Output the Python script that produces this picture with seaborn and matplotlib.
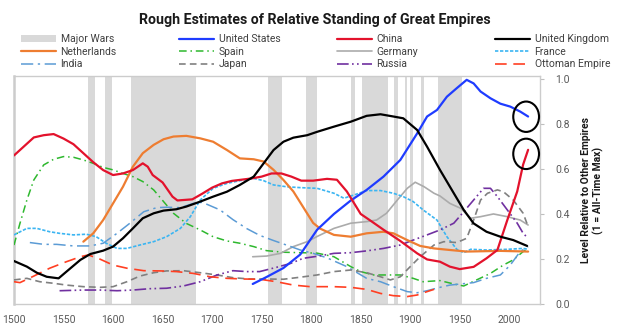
import matplotlib
matplotlib.use("Agg")
import matplotlib.pyplot as plt
import seaborn as sns
import pandas as pd
from matplotlib.lines import Line2D
from matplotlib.patches import Patch, Ellipse

sns.set_theme(style="white")
plt.rcParams["font.family"] = ["Roboto", "DejaVu Sans"]

# ---------------- data ----------------
wars = [(1575, 1582), (1592, 1599), (1618, 1684), (1756, 1771), (1795, 1806),
        (1840, 1844), (1851, 1878), (1884, 1888), (1895, 1897), (1900, 1903),
        (1911, 1914), (1928, 1952)]

us_years = [1741, 1755, 1772, 1789, 1806, 1823, 1840, 1856, 1873, 1890, 1907, 1917, 1927,
            1937, 1947, 1957, 1964, 1971, 1981, 1991, 2001, 2011, 2019]
us_vals = [0.089, 0.12, 0.16, 0.22, 0.33, 0.40, 0.46, 0.507, 0.566, 0.64, 0.758, 0.833, 0.862,
           0.921, 0.959, 0.996, 0.98, 0.944, 0.914, 0.89, 0.877, 0.855, 0.833]

china_years = [1500, 1510, 1520, 1530, 1540, 1550, 1560, 1570, 1580, 1590, 1600, 1610, 1620,
               1630, 1635, 1640, 1650, 1660, 1665, 1680, 1690, 1700, 1710, 1720, 1740, 1750,
               1760, 1770, 1780, 1790, 1802, 1816, 1826, 1836, 1843, 1850, 1860, 1873, 1890,
               1907, 1917, 1930, 1940, 1950, 1964, 1977, 1988, 1998, 2008, 2014, 2019]
china_vals = [0.66, 0.70, 0.74, 0.75, 0.755, 0.735, 0.71, 0.67, 0.63, 0.595, 0.573, 0.58, 0.595,
              0.625, 0.61, 0.573, 0.54, 0.477, 0.46, 0.465, 0.49, 0.517, 0.536, 0.547, 0.558, 0.566,
              0.58, 0.58, 0.566, 0.548, 0.548, 0.556, 0.552, 0.50, 0.45, 0.40, 0.37, 0.33, 0.28,
              0.225, 0.198, 0.188, 0.166, 0.155, 0.165, 0.203, 0.24, 0.373, 0.50, 0.62, 0.685]

uk_years = [1500, 1513, 1523, 1533, 1545, 1553, 1567, 1577, 1590, 1600, 1610, 1620, 1630, 1641,
            1651, 1664, 1674, 1688, 1701, 1715, 1728, 1742, 1752, 1762, 1772, 1782, 1796, 1806,
            1823, 1840, 1856, 1870, 1883, 1893, 1907, 1917, 1930, 1944, 1954, 1964, 1977, 1991,
            2004, 2018]
uk_vals = [0.191, 0.166, 0.139, 0.121, 0.114, 0.144, 0.196, 0.222, 0.237, 0.255, 0.292, 0.336,
           0.381, 0.403, 0.415, 0.421, 0.433, 0.455, 0.477, 0.499, 0.529, 0.566, 0.625, 0.684,
           0.721, 0.739, 0.75, 0.765, 0.788, 0.81, 0.836, 0.843, 0.833, 0.825, 0.773, 0.699,
           0.596, 0.492, 0.418, 0.358, 0.321, 0.299, 0.284, 0.258]

nl_years = [1570, 1580, 1590, 1600, 1610, 1620, 1630, 1641, 1651, 1661, 1674, 1688, 1701, 1715,
            1728, 1742, 1752, 1762, 1772, 1782, 1792, 1802, 1809, 1823, 1840, 1856, 1873, 1883,
            1897, 1910, 1924, 1940, 1957, 1991, 2019]
nl_vals = [0.277, 0.314, 0.373, 0.447, 0.521, 0.61, 0.67, 0.707, 0.732, 0.744, 0.747, 0.736,
           0.721, 0.684, 0.647, 0.643, 0.633, 0.596, 0.551, 0.50, 0.43, 0.36, 0.335, 0.307, 0.299,
           0.314, 0.321, 0.314, 0.284, 0.258, 0.247, 0.24, 0.233, 0.236, 0.233]

spain_years = [1500, 1506, 1513, 1520, 1530, 1540, 1550, 1560, 1570, 1580, 1590, 1600, 1610,
               1620, 1630, 1641, 1651, 1661, 1674, 1688, 1701, 1715, 1728, 1742, 1755, 1772,
               1789, 1806, 1823, 1840, 1850, 1863, 1876, 1890, 1903, 1913, 1930, 1944, 1954,
               1967, 1981, 1994, 2004, 2014, 2019]
spain_vals = [0.262, 0.358, 0.462, 0.551, 0.618, 0.643, 0.655, 0.652, 0.64, 0.625, 0.607, 0.596,
              0.58, 0.566, 0.544, 0.507, 0.455, 0.403, 0.358, 0.329, 0.299, 0.28, 0.27, 0.255,
              0.237, 0.23, 0.228, 0.226, 0.21, 0.166, 0.144, 0.129, 0.129, 0.129, 0.114, 0.099,
              0.104, 0.089, 0.08, 0.107, 0.136, 0.173, 0.196, 0.233, 0.247]

germany_years = [1741, 1755, 1769, 1782, 1796, 1806, 1823, 1840, 1856, 1866, 1876, 1887, 1897,
                 1905, 1914, 1924, 1930, 1940, 1951, 1961, 1971, 1984, 1998, 2011, 2019]
germany_vals = [0.21, 0.213, 0.225, 0.255, 0.277, 0.3, 0.336, 0.359, 0.366, 0.373, 0.403, 0.462,
                0.514, 0.541, 0.521, 0.492, 0.48, 0.447, 0.425, 0.381, 0.388, 0.40, 0.388, 0.373,
                0.351]

france_years = [1500, 1513, 1523, 1536, 1546, 1560, 1573, 1583, 1593, 1604, 1614, 1627, 1641,
                1654, 1668, 1678, 1688, 1701, 1715, 1728, 1742, 1752, 1762, 1775, 1789, 1806,
                1823, 1833, 1843, 1856, 1870, 1883, 1893, 1903, 1913, 1927, 1937, 1947, 1954,
                1961, 1977, 1998, 2014, 2019]
france_vals = [0.307, 0.336, 0.336, 0.321, 0.314, 0.307, 0.31, 0.299, 0.27, 0.247, 0.247, 0.262,
               0.277, 0.299, 0.336, 0.388, 0.462, 0.514, 0.536, 0.548, 0.558, 0.548, 0.529, 0.521,
               0.517, 0.514, 0.492, 0.47, 0.484, 0.504, 0.504, 0.492, 0.477, 0.455, 0.418, 0.373,
               0.299, 0.243, 0.228, 0.243, 0.24, 0.243, 0.247, 0.243]

india_years = [1516, 1530, 1543, 1560, 1577, 1590, 1604, 1617, 1631, 1644, 1654, 1668, 1681,
               1690, 1708, 1721, 1735, 1748, 1762, 1775, 1789, 1802, 1816, 1836, 1856, 1870,
               1883, 1897, 1907, 1917, 1930, 1940, 1951, 1964, 1977, 1991, 2001, 2011, 2019]
india_vals = [0.273, 0.265, 0.265, 0.258, 0.258, 0.27, 0.314, 0.359, 0.41, 0.428, 0.43, 0.428,
              0.447, 0.452, 0.418, 0.375, 0.335, 0.305, 0.282, 0.262, 0.24, 0.225, 0.205, 0.166,
              0.114, 0.099, 0.077, 0.055, 0.05, 0.059, 0.074, 0.084, 0.089, 0.095, 0.114, 0.129,
              0.173, 0.233, 0.255]

japan_years = [1500, 1513, 1526, 1540, 1553, 1570, 1587, 1600, 1614, 1627, 1641, 1654, 1671,
               1688, 1705, 1721, 1738, 1755, 1772, 1789, 1806, 1823, 1840, 1856, 1870, 1880,
               1890, 1900, 1910, 1924, 1934, 1947, 1957, 1964, 1971, 1978, 1988, 1994, 2004,
               2014, 2019]
japan_vals = [0.107, 0.114, 0.099, 0.092, 0.084, 0.077, 0.074, 0.077, 0.099, 0.124, 0.139,
              0.147, 0.148, 0.139, 0.129, 0.117, 0.111, 0.111, 0.11, 0.119, 0.129, 0.144, 0.151,
              0.139, 0.121, 0.107, 0.121, 0.166, 0.21, 0.262, 0.277, 0.273, 0.292, 0.373, 0.462,
              0.492, 0.507, 0.499, 0.462, 0.403, 0.344]

russia_years = [1546, 1570, 1587, 1604, 1620, 1637, 1654, 1671, 1688, 1705, 1721, 1735, 1748,
                1765, 1779, 1792, 1806, 1823, 1840, 1856, 1873, 1890, 1903, 1917, 1930, 1944,
                1954, 1964, 1974, 1981, 1988, 1998, 2008, 2014, 2019]
russia_vals = [0.059, 0.062, 0.062, 0.059, 0.062, 0.068, 0.07, 0.08, 0.099, 0.129, 0.148, 0.144,
               0.144, 0.163, 0.18, 0.203, 0.212, 0.225, 0.228, 0.236, 0.247, 0.262, 0.284, 0.307,
               0.329, 0.359, 0.41, 0.462, 0.514, 0.514, 0.477, 0.418, 0.359, 0.314, 0.292]

ottoman_years = [1500, 1506, 1520, 1536, 1553, 1567, 1575, 1587, 1600, 1614, 1631, 1648, 1664,
                 1681, 1698, 1715, 1732, 1748, 1765, 1782, 1799, 1823, 1840, 1856, 1870, 1883,
                 1897, 1907, 1917, 1924]
ottoman_vals = [0.099, 0.095, 0.124, 0.159, 0.188, 0.21, 0.218, 0.199, 0.173, 0.159, 0.148,
                0.147, 0.144, 0.136, 0.121, 0.114, 0.111, 0.11, 0.099, 0.084, 0.077, 0.077, 0.074,
                0.065, 0.047, 0.037, 0.033, 0.04, 0.055, 0.065]

# ---------------- styles ----------------
series = [
    ("United States", us_years, us_vals, "#1f3cff", "-", 1.6, 6),
    ("China", china_years, china_vals, "#e3122c", "-", 1.6, 6),
    ("United Kingdom", uk_years, uk_vals, "#000000", "-", 1.6, 6),
    ("Netherlands", nl_years, nl_vals, "#ee7d31", "-", 1.6, 5),
    ("Spain", spain_years, spain_vals, "#2eb82e", (0, (5, 2.5, 1, 2.5)), 1.1, 4),
    ("Germany", germany_years, germany_vals, "#ababab", "-", 1.2, 4),
    ("France", france_years, france_vals, "#3bb5f2", (0, (2, 1)), 1.2, 4),
    ("India", india_years, india_vals, "#5b9bd5", (0, (8, 3, 1.5, 3)), 1.1, 4),
    ("Japan", japan_years, japan_vals, "#808080", (0, (4, 2.5)), 1.2, 4),
    ("Russia", russia_years, russia_vals, "#7030a0", (0, (7, 2, 1, 2, 1, 2)), 1.2, 4),
    ("Ottoman Empire", ottoman_years, ottoman_vals, "#ff3f22", (0, (7, 4)), 1.2, 4),
]

fig = plt.figure(figsize=(6.25, 3.36), dpi=100)
ax = fig.add_axes([14 / 625, 32 / 336, 526 / 625, 228 / 336])

for s, e in wars:
    ax.axvspan(s, e, color="#d9d9d9", lw=0, zorder=0)

handles = {}
for name, yrs, vals, col, ls, lw, z in series:
    df = pd.DataFrame({"year": yrs, "value": vals})
    sns.lineplot(data=df, x="year", y="value", ax=ax, color=col, lw=lw,
                 linestyle=ls, zorder=z, legend=False, estimator=None)
    handles[name] = Line2D([0], [0], color=col, lw=lw, linestyle=ls)
handles["Major Wars"] = Patch(facecolor="#d9d9d9", edgecolor="none")

# circles around latest values
for cy in (0.832, 0.667):
    ax.add_patch(Ellipse((2017, cy), 26, 0.135, fill=False, ec="black", lw=1.5,
                         clip_on=False, zorder=10))

ax.set_xlim(1500, 2031)
ax.set_ylim(0, 1.013)
ax.set_xticks(range(1500, 2001, 50))
ax.set_yticks([0, 0.2, 0.4, 0.6, 0.8, 1.0])
ax.set_yticklabels(["0.0", "0.2", "0.4", "0.6", "0.8", "1.0"])
ax.yaxis.tick_right()
ax.yaxis.set_label_position("right")
ax.tick_params(axis="both", labelsize=7.5, labelcolor="#595959", colors="#bfbfbf",
               length=3, width=0.8)
ax.tick_params(axis="y", pad=8, labelcolor="#595959")
ax.tick_params(axis="x", pad=5, labelcolor="#595959")
for sp in ax.spines.values():
    sp.set_color("#cccccc")
    sp.set_linewidth(1.0)
ax.spines["left"].set_linewidth(1.8)
ax.set_xlabel("")
ax.set_ylabel("Level Relative to Other Empires\n(1 = All-Time Max)", fontsize=7.5,
              fontweight="bold", color="#1a1a1a", labelpad=8, linespacing=1.2)

fig.text(0.504, 1 - 20 / 336, "Rough Estimates of Relative Standing of Great Empires",
         ha="center", va="center", fontsize=10.2, fontweight="bold", color="#1a1a1a")

columns = [["Major Wars", "Netherlands", "India"],
           ["United States", "Spain", "Japan"],
           ["China", "Germany", "Russia"],
           ["United Kingdom", "France", "Ottoman Empire"]]
col_x = [21, 179, 337, 495]
for names, cx in zip(columns, col_x):
    leg = fig.legend([handles[n] for n in names], names, loc="upper left",
                     bbox_to_anchor=(cx / 625, 1 - 34 / 336), frameon=False,
                     fontsize=7.5, handlelength=3.4, handletextpad=0.4,
                     labelspacing=0.25, borderpad=0, borderaxespad=0, handleheight=0.6)
    for t in leg.get_texts():
        t.set_color("#404040")

fig.savefig("out.png", dpi=100)
